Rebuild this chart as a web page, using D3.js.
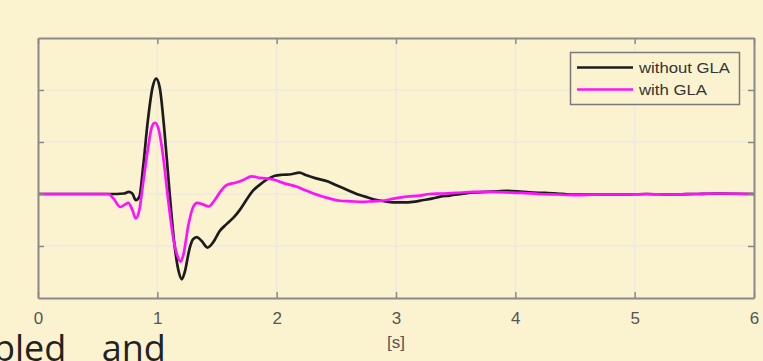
<!DOCTYPE html>
<html>
<head>
<meta charset="utf-8">
<script src="https://cdn.jsdelivr.net/npm/d3@7"></script>
<style>
  html, body { margin: 0; padding: 0; background: #fbf3cf; }
  svg { display: block; }
</style>
</head>
<body>
<svg id="chart" width="763" height="361"></svg>
<script>
// Time axis [s] and frequency deviation responses
const timeTicks = [0, 1, 2, 3, 4, 5, 6];
const yTicks = [-1, 0, 1, 2];

const withoutGLA = [
  [0, 0], [0.6, 0], [0.72, 0.01], [0.76, 0.04], [0.79, 0.01], [0.82, -0.12], [0.85, -0.05],
  [0.88, 0.5], [0.92, 1.4], [0.96, 2.05], [0.99, 2.22], [1.02, 2.05], [1.06, 1.2],
  [1.10, 0.1], [1.14, -0.9], [1.18, -1.5], [1.205, -1.64], [1.23, -1.5], [1.27, -1.05],
  [1.30, -0.87], [1.33, -0.83], [1.37, -0.9], [1.42, -1.03], [1.47, -0.92], [1.52, -0.72],
  [1.58, -0.58], [1.64, -0.45], [1.69, -0.31], [1.75, -0.1], [1.80, 0.06], [1.86, 0.18],
  [1.92, 0.28], [1.985, 0.35], [2.05, 0.37], [2.12, 0.38], [2.19, 0.41], [2.25, 0.36],
  [2.33, 0.30], [2.43, 0.24], [2.5, 0.17], [2.56, 0.11], [2.62, 0.05], [2.67, 0.0],
  [2.74, -0.05], [2.81, -0.10], [2.9, -0.14], [2.98, -0.16], [3.06, -0.16], [3.14, -0.15],
  [3.22, -0.12], [3.30, -0.09], [3.37, -0.05], [3.45, -0.03], [3.55, 0.0], [3.65, 0.03],
  [3.75, 0.04], [3.85, 0.05], [3.93, 0.06], [4.02, 0.05], [4.12, 0.03], [4.25, 0.02],
  [4.35, 0.01], [4.46, -0.01], [4.6, -0.01], [4.7, -0.01], [4.9, -0.01], [5.1, 0.0],
  [5.3, -0.01], [5.5, 0.0], [5.7, 0.01], [6.0, 0.0]
];

const withGLA = [
  [0, 0], [0.59, 0], [0.63, -0.08], [0.69, -0.25], [0.73, -0.2], [0.756, -0.17], [0.79, -0.3],
  [0.82, -0.47], [0.85, -0.3], [0.88, 0.2], [0.92, 0.85], [0.955, 1.3], [0.98, 1.37],
  [1.01, 1.25], [1.05, 0.7], [1.09, -0.1], [1.13, -0.8], [1.17, -1.2], [1.195, -1.30],
  [1.22, -1.15], [1.26, -0.6], [1.30, -0.25], [1.335, -0.17], [1.38, -0.2], [1.43, -0.24],
  [1.48, -0.12], [1.53, 0.05], [1.58, 0.17], [1.66, 0.22], [1.72, 0.27], [1.79, 0.34],
  [1.86, 0.31], [1.97, 0.28], [2.07, 0.2], [2.17, 0.14], [2.24, 0.07], [2.31, 0.01],
  [2.4, -0.06], [2.53, -0.13], [2.62, -0.14], [2.72, -0.15], [2.8, -0.14], [2.89, -0.13],
  [2.98, -0.09], [3.09, -0.05], [3.2, -0.03], [3.28, 0.0], [3.37, 0.01], [3.5, 0.02],
  [3.65, 0.04], [3.8, 0.04], [3.93, 0.03], [4.05, 0.02], [4.2, 0.0], [4.35, -0.01],
  [4.5, -0.02], [4.7, -0.01], [4.9, -0.01], [5.1, 0.0], [5.3, -0.01], [5.5, 0.0],
  [5.7, 0.01], [6.0, 0.0]
];

const seriesNames = ["without GLA", "with GLA"];
const seriesColors = ["#1c1c1c", "#ff10ff"];

const svg = d3.select("#chart");
const W = 763, H = 361;
const m = { left: 38, right: 9, top: 38, bottom: 63 };
const pw = W - m.left - m.right, ph = H - m.top - m.bottom;

const x = d3.scaleLinear().domain([0, 6]).range([m.left, m.left + pw]);
const y = d3.scaleLinear().domain([-2, 3]).range([m.top + ph, m.top]);

svg.append("rect").attr("width", W).attr("height", H).attr("fill", "#fbf3cf");

// grid
const grid = svg.append("g").attr("stroke", "#ece9de").attr("stroke-width", 1.5);
grid.selectAll(".gx").data(timeTicks.slice(1, -1)).join("line")
  .attr("x1", d => x(d)).attr("x2", d => x(d))
  .attr("y1", m.top).attr("y2", m.top + ph);
grid.selectAll(".gy").data(yTicks).join("line")
  .attr("y1", d => y(d)).attr("y2", d => y(d))
  .attr("x1", m.left).attr("x2", m.left + pw);

// series
const line = d3.line().x(d => x(d[0])).y(d => y(d[1])).curve(d3.curveMonotoneX);
[withoutGLA, withGLA].forEach((s, i) => {
  svg.append("path").datum(s)
    .attr("fill", "none")
    .attr("stroke", seriesColors[i])
    .attr("stroke-width", 2.7)
    .attr("stroke-linejoin", "round")
    .attr("d", line);
});

// axes frame with inward ticks
const axisColor = "#8a8a8a";
const tl = 6;
const bottomAxis = d3.axisBottom(x).tickValues(timeTicks).tickFormat(d3.format("d"))
  .tickSizeInner(-tl).tickSizeOuter(0).tickPadding(14);
const topAxis = d3.axisTop(x).tickValues(timeTicks).tickSizeInner(-tl).tickSizeOuter(0).tickFormat("");
const leftAxis = d3.axisLeft(y).tickValues(yTicks).tickSizeInner(-tl).tickSizeOuter(0).tickFormat("");
const rightAxis = d3.axisRight(y).tickValues(yTicks).tickSizeInner(-tl).tickSizeOuter(0).tickFormat("");

function styleAxis(g) {
  g.select(".domain").attr("stroke", axisColor).attr("stroke-width", 2);
  g.selectAll(".tick line").attr("stroke", axisColor).attr("stroke-width", 1.5);
  g.selectAll(".tick text").attr("fill", "#555").attr("font-family", "Liberation Sans, Arial, sans-serif").attr("font-size", 17);
}
svg.append("g").attr("transform", `translate(0,${m.top + ph})`).call(bottomAxis).call(styleAxis);
svg.append("g").attr("transform", `translate(0,${m.top})`).call(topAxis).call(styleAxis);
svg.append("g").attr("transform", `translate(${m.left},0)`).call(leftAxis).call(styleAxis);
svg.append("g").attr("transform", `translate(${m.left + pw},0)`).call(rightAxis).call(styleAxis);

// axis label
svg.append("text").attr("x", x(3)).attr("y", 348).attr("text-anchor", "middle")
  .attr("fill", "#555").attr("font-family", "Liberation Sans, Arial, sans-serif").attr("font-size", 17)
  .text("[s]");

// legend
const lg = svg.append("g");
lg.append("rect").attr("x", 570.5).attr("y", 52.5).attr("width", 169).attr("height", 52)
  .attr("fill", "#fbf3cf").attr("stroke", "#7a7a7a").attr("stroke-width", 1.5);
const legendTextWidths = [91, 68];
seriesNames.forEach((n, i) => {
  const yy = 67.5 + i * 22;
  lg.append("line").attr("x1", 577).attr("x2", 633).attr("y1", yy).attr("y2", yy)
    .attr("stroke", seriesColors[i]).attr("stroke-width", 2.7);
  lg.append("text").attr("x", 639).attr("y", yy + 5.3)
    .attr("fill", "#333").attr("font-family", "Liberation Sans, Arial, sans-serif").attr("font-size", 15)
    .attr("textLength", legendTextWidths[i]).attr("lengthAdjust", "spacingAndGlyphs")
    .text(n);
});

// surrounding slide text (justified, wide word gap)
svg.append("text").attr("x", -7).attr("y", 361)
  .attr("fill", "#222").attr("font-family", "Open Sans, sans-serif").attr("font-size", 36)
  .attr("word-spacing", 26)
  .text("pled and");
</script>
</body>
</html>
